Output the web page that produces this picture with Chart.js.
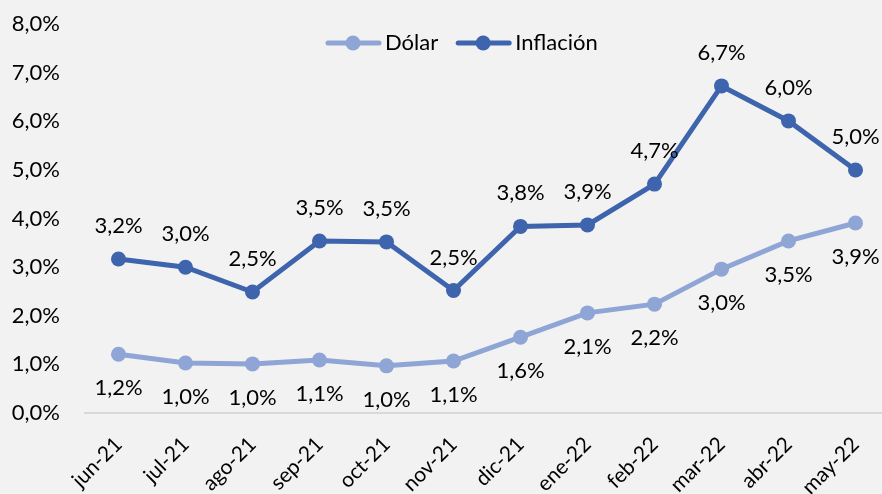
<!DOCTYPE html>
<html>
<head>
<meta charset="utf-8">
<script src="https://cdn.jsdelivr.net/npm/chart.js@4/dist/chart.umd.min.js"></script>
<style>
  html, body { margin: 0; padding: 0; background: #f2f2f2; overflow: hidden; }
  #wrap { width: 882px; height: 494px; overflow: hidden; position: relative; }
  #box { width: 900px; height: 508px; position: absolute; left: 0; top: -14px; }
</style>
</head>
<body>
<div id="wrap"><div id="box"><canvas id="chart"></canvas></div></div>
<script>
var meses = ['jun-21','jul-21','ago-21','sep-21','oct-21','nov-21','dic-21','ene-22','feb-22','mar-22','abr-22','may-22'];
var dolar = [1.21, 1.03, 1.01, 1.09, 0.97, 1.07, 1.56, 2.06, 2.24, 2.96, 3.54, 3.91];
var inflacion = [3.17, 3.00, 2.49, 3.54, 3.52, 2.52, 3.84, 3.87, 4.71, 6.73, 6.01, 5.00];

var colorDolar = '#8fa5d6';
var colorInfl = '#3d64ad';
var fuente = 'Lato, "Open Sans", sans-serif';

function pct(v){ return v.toFixed(1).replace('.', ',') + '%'; }

// labels above / below each point
var etiquetas = {
  id: 'etiquetas',
  afterDatasetsDraw: function(chart){
    var ctx = chart.ctx;
    ctx.save();
    ctx.font = '22px ' + fuente;
    ctx.fillStyle = '#000';
    ctx.textAlign = 'center';
    ctx.textBaseline = 'middle';
    chart.data.datasets.forEach(function(ds, i){
      var meta = chart.getDatasetMeta(i);
      var dy = ds.label === 'Inflación' ? -33 : 34;
      meta.data.forEach(function(pt, j){
        ctx.fillText(pct(ds.data[j]), pt.x, pt.y + dy);
      });
    });
    ctx.restore();
  }
};

// legend drawn over the plot, line + dot markers like the original
var leyenda = {
  id: 'leyenda',
  afterDraw: function(chart){
    var ctx = chart.ctx;
    var x = chart.chartArea.left + 241;
    var y = 57;
    ctx.save();
    ctx.font = '22px ' + fuente;
    ctx.textBaseline = 'middle';
    ctx.textAlign = 'left';
    chart.data.datasets.forEach(function(ds){
      ctx.strokeStyle = ds.borderColor;
      ctx.fillStyle = ds.borderColor;
      ctx.lineWidth = 5;
      ctx.lineCap = 'round';
      ctx.beginPath(); ctx.moveTo(x + 2, y); ctx.lineTo(x + 53, y); ctx.stroke();
      ctx.beginPath(); ctx.arc(x + 27, y, 7.5, 0, Math.PI * 2); ctx.fill();
      ctx.fillStyle = '#000';
      ctx.fillText(ds.label, x + 59, y);
      x += 59 + ctx.measureText(ds.label).width + 18;
    });
    ctx.restore();
  }
};

var ctx = document.getElementById('chart').getContext('2d');
var chart = new Chart(ctx, {
  type: 'line',
  data: {
    labels: meses,
    datasets: [
      {
        label: 'Dólar',
        data: dolar,
        borderColor: colorDolar,
        backgroundColor: colorDolar,
        borderWidth: 5,
        pointRadius: 7.5,
        pointBackgroundColor: colorDolar,
        pointBorderWidth: 0,
        tension: 0
      },
      {
        label: 'Inflación',
        data: inflacion,
        borderColor: colorInfl,
        backgroundColor: colorInfl,
        borderWidth: 5,
        pointRadius: 7.5,
        pointBackgroundColor: colorInfl,
        pointBorderWidth: 0,
        tension: 0
      }
    ]
  },
  options: {
    responsive: true,
    maintainAspectRatio: false,
    animation: false,
    layout: { padding: { top: 11, right: 11, left: 0, bottom: 0 } },
    plugins: {
      legend: { display: false },
      tooltip: { enabled: false }
    },
    scales: {
      x: {
        offset: true,
        grid: { display: false, drawTicks: false },
        border: { display: true, color: '#d9d9d9', width: 2 },
        ticks: {
          color: '#000',
          font: { family: fuente, size: 21 },
          minRotation: 45,
          maxRotation: 45,
          padding: 19,
          autoSkip: false
        },
        afterFit: function(axis){ axis.height = 81; }
      },
      y: {
        min: 0,
        max: 8,
        grid: { display: false, drawTicks: false },
        border: { display: false },
        ticks: {
          stepSize: 1,
          color: '#000',
          font: { family: fuente, size: 22 },
          padding: 25,
          callback: function(v){ return pct(v); }
        },
        afterFit: function(axis){ axis.width = 85; }
      }
    }
  },
  plugins: [etiquetas, leyenda]
});
</script>
</body>
</html>
